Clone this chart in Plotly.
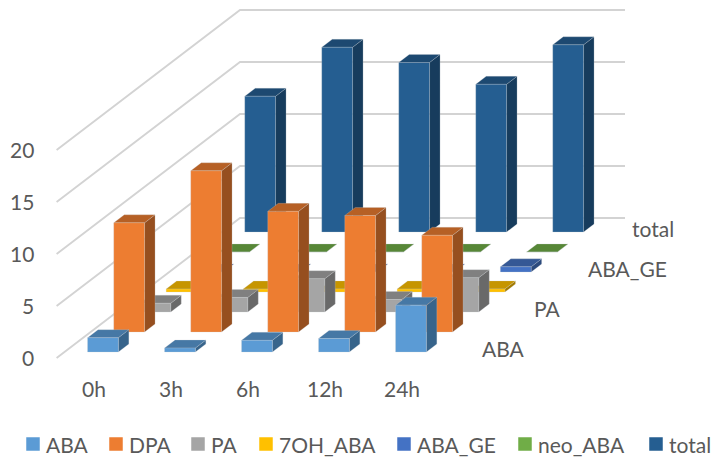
import plotly.graph_objects as go

categories = ["0h", "3h", "6h", "12h", "24h"]
ABA = [1.38, 0.38, 1.12, 1.3, 4.5]
DPA = [10.5, 15.5, 11.6, 11.2, 9.3]
PA = [0.84, 1.4, 3.2, 1.2, 3.3]
OH7_ABA = [0.28, 0.28, 0.3, 0.28, 0.3]
ABA_GE = [0.0, 0.0, 0.0, 0.0, 0.5]
neo_ABA = [0.0, 0.0, 0.0, 0.0, 0.0]
total = [13.05, 17.76, 16.3, 14.2, 18.0]
value_ticks = [0, 5, 10, 15, 20]

# name, values, front, top and side shades
series = [
    ("ABA", ABA, "#5B9BD5", "#4678A5", "#37648B"),
    ("DPA", DPA, "#ED7D31", "#B66025", "#964F1F"),
    ("PA", PA, "#A5A5A5", "#808080", "#696969"),
    ("7OH_ABA", OH7_ABA, "#FFC000", "#C69500", "#A27A00"),
    ("ABA_GE", ABA_GE, "#4472C4", "#355895", "#2C4A7D"),
    ("neo_ABA", neo_ABA, "#70AD47", "#578737", "#4A7330"),
    ("total", total, "#255E91", "#1D4971", "#173C5D"),
]

# Oblique projection of (category, depth row, value) onto the page
ORIGIN_X, ORIGIN_Y = 56.6, 358.0
CAT_STEP = 77.0
ROW_DX, ROW_DY = 26.2, 20.0
VALUE_STEP = 10.4
ROWS = len(series)
BAR_WIDTH, BAR_DEPTH = 0.4, 0.4
TEXT_COLOR = "#595959"
FONT = "Lato"
FONT_SIZE = 21
EDGE = "rgba(200,205,210,0.35)"


def project(cat, row, value):
    return (ORIGIN_X + CAT_STEP * cat + ROW_DX * row,
            ORIGIN_Y - ROW_DY * row - VALUE_STEP * value)


def polygons(faces):
    xs, ys = [], []
    for face in faces:
        pts = [project(*p) for p in face]
        pts.append(pts[0])
        xs += [p[0] for p in pts] + [None]
        ys += [p[1] for p in pts] + [None]
    return xs, ys


fig = go.Figure()

# Gridlines on the back and side walls
for v in value_ticks:
    pts = [project(0, 0, v), project(0, ROWS, v), project(len(categories), ROWS, v)]
    fig.add_trace(go.Scatter(
        x=[p[0] for p in pts], y=[p[1] for p in pts], mode="lines",
        line=dict(color="#D3D3D3", width=1.9), hoverinfo="skip", showlegend=False,
    ))

# Bars, painted from the back row forward
for row in reversed(range(ROWS)):
    name, values, front, top, side = series[row]
    fronts, tops, sides = [], [], []
    for i, v in enumerate(values):
        x0, x1 = i + 0.3, i + 0.3 + BAR_WIDTH
        d0, d1 = row + 0.3, row + 0.3 + BAR_DEPTH
        fronts.append([(x0, d0, 0), (x1, d0, 0), (x1, d0, v), (x0, d0, v)])
        tops.append([(x0, d0, v), (x1, d0, v), (x1, d1, v), (x0, d1, v)])
        sides.append([(x1, d0, 0), (x1, d1, 0), (x1, d1, v), (x1, d0, v)])
    for faces, color in ((sides, side), (tops, top), (fronts, front)):
        xs, ys = polygons(faces)
        fig.add_trace(go.Scatter(
            x=xs, y=ys, mode="lines", fill="toself", fillcolor=color,
            line=dict(color=EDGE, width=0.7), name=name,
            hoverinfo="skip", showlegend=False,
        ))


def label(x, y, text, anchor="center"):
    fig.add_annotation(
        x=x, y=y, text=text, showarrow=False, xanchor=anchor, yanchor="middle",
        font=dict(family=FONT, size=FONT_SIZE, color=TEXT_COLOR),
    )


# Value axis labels
for v in value_ticks:
    px, py = project(0, 0, v)
    label(px - 21, py - 1, str(v), "right")

# Category labels below the floor
for i, c in enumerate(categories):
    px, py = project(i + 0.5, 0, 0)
    label(px - 1, py + 30, c)

# Every other row is named along the depth axis; the last one is pulled in from the page edge
DEPTH_LABEL_NUDGE = {0: 25, 2: 25, 4: 26, 6: 18}
for row, nudge in DEPTH_LABEL_NUDGE.items():
    px, py = project(len(categories), row + 0.5, 0)
    label(px + nudge, py, series[row][0], "left")

# Legend strip along the bottom
LEGEND_X = [26, 109, 191, 259, 397, 518, 649]
LEGEND_Y = 444
for (name, _, front, _, _), lx in zip(series, LEGEND_X):
    fig.add_trace(go.Scatter(
        x=[lx + 7], y=[LEGEND_Y], mode="markers",
        marker=dict(symbol="square", size=13.5, color=front),
        hoverinfo="skip", showlegend=False,
    ))
    label(lx + 18, LEGEND_Y, name, "left")

fig.update_xaxes(range=[0, 721], visible=False, fixedrange=True)
fig.update_yaxes(range=[462, 0], visible=False, fixedrange=True)
fig.update_layout(
    width=721, height=462, margin=dict(l=0, r=0, t=0, b=0),
    paper_bgcolor="white", plot_bgcolor="white", showlegend=False,
)
fig.write_html("out.html")
